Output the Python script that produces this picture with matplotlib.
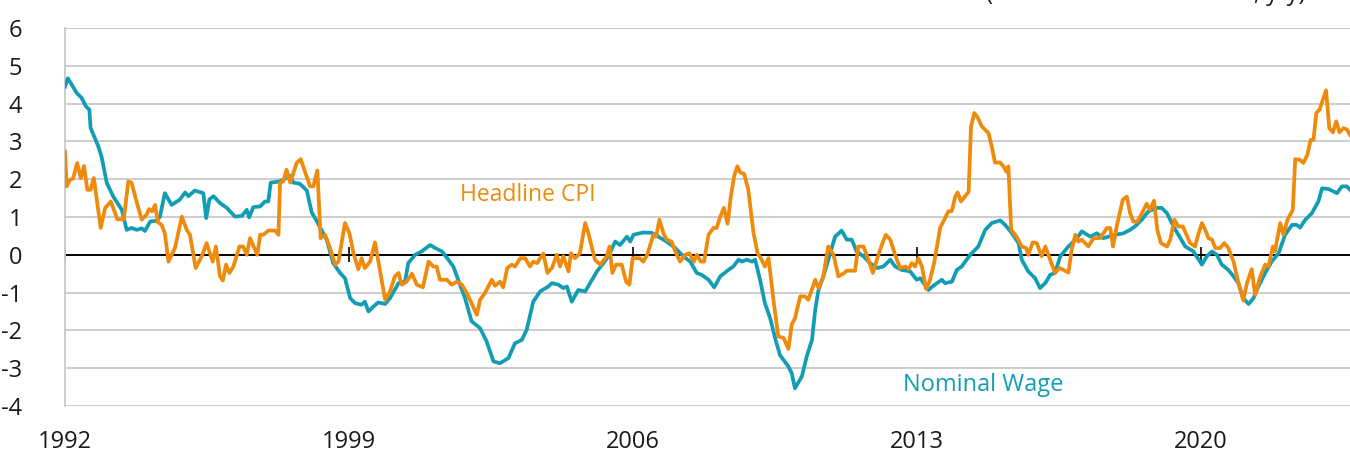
import matplotlib
matplotlib.use("Agg")
import matplotlib.pyplot as plt

# Nominal wage (deviation, %)
wage_years = [1992.00, 1992.07, 1992.29, 1992.41, 1992.52, 1992.60, 1992.63, 1992.82, 1992.90, 1993.03,
              1993.19, 1993.40, 1993.52, 1993.64, 1993.77, 1993.89, 1993.97, 1994.10, 1994.26, 1994.34,
              1994.46, 1994.63, 1994.83, 1994.96, 1995.04, 1995.20, 1995.41, 1995.48, 1995.56, 1995.66,
              1995.82, 1995.99, 1996.19, 1996.36, 1996.48, 1996.54, 1996.64, 1996.81, 1996.93, 1997.01,
              1997.07, 1997.30, 1997.55, 1997.63, 1997.79, 1997.96, 1998.08, 1998.20, 1998.45, 1998.61,
              1998.78, 1998.90, 1999.03, 1999.15, 1999.31, 1999.39, 1999.48, 1999.60, 1999.72, 1999.89,
              2000.01, 2000.22, 2000.38, 2000.46, 2000.63, 2000.79, 2001.00, 2001.12, 2001.29, 2001.45,
              2001.57, 2001.69, 2001.86, 2002.02, 2002.23, 2002.39, 2002.56, 2002.72, 2002.93, 2003.09,
              2003.26, 2003.38, 2003.54, 2003.71, 2003.91, 2004.00, 2004.16, 2004.28, 2004.37, 2004.49,
              2004.65, 2004.82, 2004.94, 2005.11, 2005.27, 2005.39, 2005.56, 2005.68, 2005.85, 2005.93,
              2006.01, 2006.25, 2006.46, 2006.62, 2006.83, 2007.04, 2007.24, 2007.41, 2007.57, 2007.69,
              2007.86, 2008.00, 2008.15, 2008.35, 2008.47, 2008.60, 2008.68, 2008.80, 2008.93, 2009.01,
              2009.13, 2009.25, 2009.38, 2009.50, 2009.62, 2009.83, 2009.91, 2009.99, 2010.16, 2010.28,
              2010.41, 2010.49, 2010.57, 2010.69, 2010.86, 2010.98, 2011.14, 2011.27, 2011.39, 2011.51,
              2011.68, 2011.84, 2012.01, 2012.17, 2012.34, 2012.46, 2012.62, 2012.83, 2012.99, 2013.08,
              2013.28, 2013.40, 2013.61, 2013.69, 2013.86, 2013.98, 2014.10, 2014.31, 2014.51, 2014.68,
              2014.84, 2015.05, 2015.17, 2015.34, 2015.50, 2015.58, 2015.74, 2015.91, 2016.03, 2016.16,
              2016.28, 2016.40, 2016.53, 2016.73, 2016.94, 2017.06, 2017.27, 2017.43, 2017.59, 2017.72,
              2017.88, 2018.09, 2018.25, 2018.37, 2018.54, 2018.70, 2018.91, 2019.03, 2019.16, 2019.32,
              2019.44, 2019.61, 2019.81, 2020.02, 2020.14, 2020.27, 2020.39, 2020.51, 2020.67, 2020.80,
              2020.92, 2021.04, 2021.17, 2021.29, 2021.41, 2021.58, 2021.74, 2021.91, 2022.07, 2022.24,
              2022.36, 2022.44, 2022.57, 2022.73, 2022.89, 2022.98, 2023.14, 2023.35, 2023.47, 2023.59,
              2023.67]
wage_vals = [4.45, 4.67, 4.28, 4.15, 3.92, 3.84, 3.36, 2.87, 2.60, 1.90,
             1.54, 1.19, 0.66, 0.71, 0.66, 0.70, 0.63, 0.88, 0.90, 1.01,
             1.63, 1.32, 1.46, 1.65, 1.55, 1.70, 1.63, 0.97, 1.47, 1.55,
             1.37, 1.24, 1.01, 1.03, 1.19, 0.99, 1.26, 1.28, 1.41, 1.41,
             1.91, 1.94, 2.09, 1.91, 1.88, 1.70, 1.12, 0.90, 0.40, -0.22,
             -0.48, -0.62, -1.15, -1.28, -1.32, -1.24, -1.50, -1.37, -1.26, -1.30,
             -1.15, -0.75, -0.71, -0.22, 0.00, 0.09, 0.26, 0.18, 0.09, -0.13,
             -0.31, -0.66, -1.15, -1.76, -1.94, -2.29, -2.82, -2.87, -2.73, -2.34,
             -2.25, -1.98, -1.24, -0.97, -0.84, -0.75, -0.79, -0.88, -0.84, -1.24,
             -0.93, -0.97, -0.75, -0.44, -0.22, -0.04, 0.35, 0.26, 0.48, 0.35,
             0.53, 0.59, 0.58, 0.48, 0.35, 0.18, -0.04, -0.18, -0.48, -0.53,
             -0.66, -0.86, -0.57, -0.40, -0.31, -0.13, -0.18, -0.13, -0.18, -0.13,
             -0.66, -1.28, -1.68, -2.20, -2.65, -2.96, -3.13, -3.53, -3.22, -2.69,
             -2.25, -1.46, -0.93, -0.57, 0.04, 0.48, 0.64, 0.40, 0.40, 0.09,
             -0.04, -0.22, -0.35, -0.31, -0.13, -0.31, -0.40, -0.44, -0.66, -0.62,
             -0.93, -0.82, -0.66, -0.75, -0.71, -0.40, -0.31, 0.00, 0.22, 0.66,
             0.84, 0.91, 0.79, 0.57, 0.31, -0.13, -0.44, -0.62, -0.88, -0.75,
             -0.53, -0.48, -0.04, 0.22, 0.44, 0.62, 0.48, 0.57, 0.44, 0.48,
             0.53, 0.57, 0.66, 0.75, 0.93, 1.15, 1.24, 1.24, 1.10, 0.75,
             0.53, 0.22, 0.09, -0.26, -0.04, 0.09, 0.00, -0.26, -0.40, -0.57,
             -0.75, -1.15, -1.30, -1.15, -0.84, -0.48, -0.18, 0.04, 0.53, 0.79,
             0.79, 0.72, 0.93, 1.10, 1.41, 1.76, 1.74, 1.63, 1.81, 1.81,
             1.72]

# Headline CPI (deviation, %)
cpi_years = [1992.00, 1992.04, 1992.12, 1992.20, 1992.30, 1992.39, 1992.47, 1992.55, 1992.63, 1992.71,
             1992.88, 1992.99, 1993.13, 1993.29, 1993.45, 1993.56, 1993.64, 1993.75, 1993.89, 1994.01,
             1994.07, 1994.15, 1994.22, 1994.29, 1994.38, 1994.46, 1994.55, 1994.71, 1994.88, 1995.00,
             1995.08, 1995.22, 1995.37, 1995.49, 1995.64, 1995.72, 1995.82, 1995.89, 1995.97, 1996.05,
             1996.15, 1996.30, 1996.39, 1996.48, 1996.56, 1996.74, 1996.81, 1996.89, 1997.01, 1997.18,
             1997.26, 1997.30, 1997.38, 1997.46, 1997.55, 1997.71, 1997.81, 1997.92, 1998.04, 1998.12,
             1998.22, 1998.30, 1998.41, 1998.53, 1998.66, 1998.74, 1998.90, 1999.01, 1999.11, 1999.23,
             1999.31, 1999.39, 1999.52, 1999.64, 1999.76, 1999.89, 2000.01, 2000.13, 2000.22, 2000.30,
             2000.42, 2000.55, 2000.67, 2000.82, 2000.96, 2001.08, 2001.16, 2001.24, 2001.41, 2001.53,
             2001.66, 2001.78, 2001.90, 2002.02, 2002.15, 2002.23, 2002.35, 2002.52, 2002.60, 2002.72,
             2002.80, 2002.90, 2003.01, 2003.09, 2003.22, 2003.34, 2003.46, 2003.54, 2003.64, 2003.71,
             2003.79, 2003.89, 2004.00, 2004.12, 2004.20, 2004.28, 2004.41, 2004.47, 2004.57, 2004.69,
             2004.82, 2004.90, 2005.06, 2005.19, 2005.35, 2005.42, 2005.49, 2005.58, 2005.72, 2005.83,
             2005.91, 2005.99, 2006.17, 2006.25, 2006.35, 2006.50, 2006.57, 2006.65, 2006.75, 2006.83,
             2006.95, 2007.06, 2007.16, 2007.28, 2007.39, 2007.50, 2007.57, 2007.67, 2007.75, 2007.86,
             2007.98, 2008.06, 2008.15, 2008.24, 2008.33, 2008.41, 2008.49, 2008.57, 2008.64, 2008.74,
             2008.84, 2008.97, 2009.07, 2009.17, 2009.25, 2009.34, 2009.46, 2009.58, 2009.71, 2009.83,
             2009.91, 2009.99, 2010.12, 2010.24, 2010.32, 2010.49, 2010.57, 2010.69, 2010.81, 2010.94,
             2011.06, 2011.18, 2011.27, 2011.47, 2011.55, 2011.68, 2011.80, 2011.91, 2012.01, 2012.13,
             2012.23, 2012.34, 2012.46, 2012.58, 2012.71, 2012.79, 2012.87, 2012.95, 2013.03, 2013.12,
             2013.22, 2013.31, 2013.42, 2013.57, 2013.69, 2013.77, 2013.86, 2013.94, 2014.00, 2014.08,
             2014.18, 2014.27, 2014.33, 2014.41, 2014.49, 2014.60, 2014.76, 2014.84, 2014.92, 2015.05,
             2015.13, 2015.20, 2015.25, 2015.32, 2015.46, 2015.58, 2015.69, 2015.74, 2015.85, 2015.95,
             2016.07, 2016.16, 2016.28, 2016.40, 2016.51, 2016.61, 2016.73, 2016.81, 2016.90, 2016.98,
             2017.06, 2017.22, 2017.35, 2017.51, 2017.68, 2017.76, 2017.83, 2017.92, 2018.07, 2018.17,
             2018.25, 2018.33, 2018.43, 2018.54, 2018.66, 2018.74, 2018.84, 2018.92, 2019.01, 2019.16,
             2019.24, 2019.34, 2019.44, 2019.55, 2019.73, 2019.85, 2019.94, 2020.02, 2020.10, 2020.18,
             2020.27, 2020.35, 2020.47, 2020.57, 2020.67, 2020.80, 2020.92, 2021.04, 2021.13, 2021.25,
             2021.33, 2021.46, 2021.58, 2021.66, 2021.77, 2021.82, 2021.95, 2022.03, 2022.13, 2022.26,
             2022.32, 2022.44, 2022.52, 2022.62, 2022.70, 2022.77, 2022.84, 2022.92, 2023.00, 2023.08,
             2023.16, 2023.25, 2023.33, 2023.41, 2023.51, 2023.59, 2023.67]
cpi_vals = [2.73, 1.81, 1.98, 2.02, 2.43, 2.03, 2.35, 1.72, 1.72, 2.03,
            0.71, 1.24, 1.41, 0.94, 0.94, 1.94, 1.91, 1.46, 0.93, 1.06,
            1.21, 1.15, 1.32, 0.86, 0.79, 0.57, -0.18, 0.18, 1.01, 0.66,
            0.53, -0.35, -0.04, 0.31, -0.18, 0.22, -0.57, -0.68, -0.26, -0.48,
            -0.31, 0.22, 0.22, 0.00, 0.44, 0.00, 0.53, 0.53, 0.64, 0.64,
            0.53, 1.91, 1.94, 2.25, 1.91, 2.43, 2.53, 2.18, 1.81, 1.81,
            2.23, 0.44, 0.53, 0.18, -0.26, -0.18, 0.84, 0.57, 0.04, -0.38,
            -0.09, -0.35, -0.18, 0.33, -0.40, -1.19, -0.97, -0.57, -0.48, -0.79,
            -0.71, -0.50, -0.79, -0.86, -0.18, -0.31, -0.31, -0.66, -0.66, -0.79,
            -0.71, -0.79, -1.01, -1.28, -1.59, -1.19, -1.01, -0.66, -0.82, -0.71,
            -0.86, -0.35, -0.26, -0.31, -0.09, -0.09, -0.31, -0.18, -0.22, -0.09,
            0.03, -0.48, -0.35, 0.00, -0.31, -0.04, -0.44, 0.04, -0.09, 0.04,
            0.84, 0.57, -0.13, -0.26, -0.04, 0.22, -0.48, -0.26, -0.26, -0.71,
            -0.79, -0.09, -0.09, -0.18, 0.00, 0.53, 0.48, 0.93, 0.57, 0.40,
            0.35, 0.04, -0.18, 0.00, 0.04, -0.18, 0.00, -0.18, -0.18, 0.53,
            0.71, 0.71, 1.01, 1.24, 0.82, 1.54, 2.07, 2.34, 2.18, 2.14,
            1.72, 0.57, 0.04, -0.13, -0.31, -0.09, -1.19, -2.16, -2.20, -2.49,
            -1.85, -1.68, -1.10, -1.10, -1.19, -0.66, -0.88, -0.57, 0.22, 0.00,
            -0.57, -0.50, -0.42, -0.42, 0.22, 0.22, -0.13, -0.48, -0.13, 0.26,
            0.53, 0.40, 0.00, -0.35, -0.31, -0.38, -0.22, -0.31, -0.09, -0.31,
            -0.90, -0.70, -0.22, 0.72, 0.97, 1.15, 1.16, 1.54, 1.65, 1.41,
            1.54, 1.67, 3.39, 3.75, 3.64, 3.39, 3.22, 2.87, 2.44, 2.44,
            2.34, 2.20, 2.34, 0.66, 0.47, 0.22, 0.18, 0.00, 0.33, 0.31,
            -0.04, 0.22, -0.13, -0.48, -0.35, -0.40, -0.47, 0.13, 0.53, 0.35,
            0.40, 0.22, 0.44, 0.44, 0.71, 0.71, 0.22, 0.75, 1.46, 1.54,
            1.10, 0.88, 0.88, 1.10, 1.35, 1.19, 1.43, 0.66, 0.31, 0.22,
            0.40, 0.93, 0.75, 0.75, 0.31, 0.22, 0.57, 0.84, 0.66, 0.44,
            0.40, 0.18, 0.18, 0.31, 0.18, -0.18, -0.75, -1.21, -0.75, -0.38,
            -1.06, -0.57, -0.26, -0.31, 0.22, 0.09, 0.84, 0.53, 0.93, 1.19,
            2.53, 2.51, 2.43, 2.65, 3.04, 3.04, 3.75, 3.84, 4.10, 4.35,
            3.35, 3.24, 3.53, 3.24, 3.35, 3.32, 3.17]

tick_years = [1992, 1999, 2006, 2013, 2020]
y_ticks = [-4, -3, -2, -1, 0, 1, 2, 3, 4, 5, 6]

ORANGE = "#EE8A0C"
TEAL = "#139DB4"

plt.rcParams['font.family'] = ['Open Sans', 'DejaVu Sans']

fig = plt.figure(figsize=(13.5, 4.51), dpi=100)
ax = fig.add_axes([65 / 1350, 1 - 406 / 451, 1 - 65 / 1350, (406 - 28) / 451])

ax.set_xlim(1992, 2023.67)
ax.set_ylim(-4, 6)

for y in y_ticks:
    if y != 0:
        ax.axhline(y, color="#c9c9c9", lw=1.3, zorder=0)
ax.axhline(0, color="black", lw=1.4, zorder=1)
ax.vlines(tick_years, -0.2, 0.2, color="black", lw=1.2, zorder=1)

ax.plot(wage_years, wage_vals, color=TEAL, lw=2.7, zorder=3, solid_joinstyle="round")
ax.plot(cpi_years, cpi_vals, color=ORANGE, lw=2.7, zorder=4, solid_joinstyle="round")

ax.text(2001.74, 1.59, "Headline CPI", color=ORANGE, fontsize=16.5, va="center", ha="left")
ax.text(2012.66, -3.44, "Nominal Wage", color=TEAL, fontsize=17, va="center", ha="left")

for s in ["top", "right", "bottom"]:
    ax.spines[s].set_visible(False)
ax.spines["left"].set_color("#c9c9c9")
ax.spines["left"].set_linewidth(1.3)

ax.set_yticks(y_ticks)
ax.set_yticklabels([str(v) for v in y_ticks])
ax.set_xticks(tick_years)
ax.set_xticklabels([str(v) for v in tick_years])
ax.tick_params(axis="y", length=0, pad=31, labelsize=17, labelcolor="#1a1a1a")
ax.tick_params(axis="x", length=0, pad=17, labelsize=17, labelcolor="#1a1a1a")

# header sits mostly above the canvas, as in the source image
fig.text(0.967, 1 - 0.5 / 451, "(% Deviation from Trend, y/y)", ha="right", va="baseline",
         fontsize=17, color="#1a1a1a")

fig.savefig("out.png", dpi=100)
